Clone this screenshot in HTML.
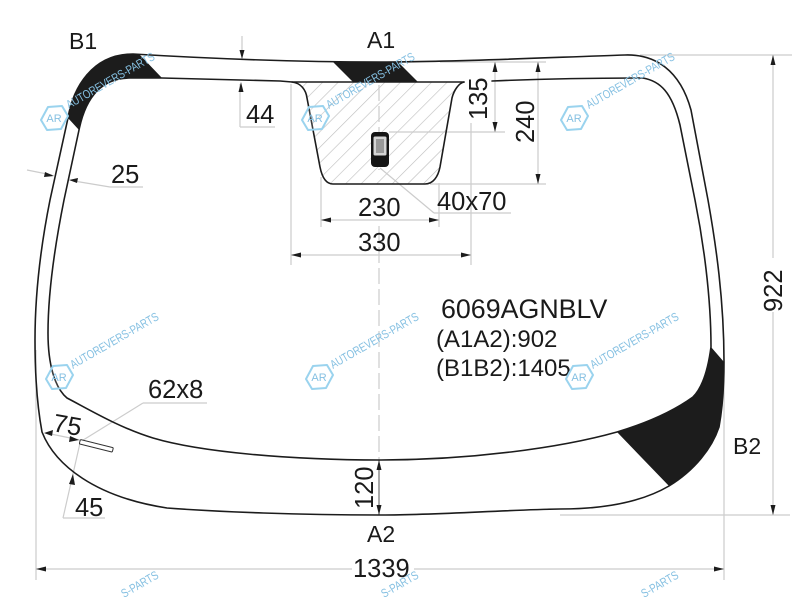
<!DOCTYPE html>
<html>
<head>
<meta charset="utf-8">
<style>
html,body{margin:0;padding:0;background:#fff;width:800px;height:600px;overflow:hidden}
svg{display:block}
text{font-family:"Liberation Sans",sans-serif;fill:#1a1a1a}
.d{stroke:#ccc;stroke-width:1.2;fill:none}
.g{stroke:#1c1c1c;stroke-width:1.6;fill:none;stroke-linejoin:round;stroke-linecap:round}
.a{fill:#1c1c1c;stroke:none}
.t{font-size:25.5px}
text.w{font-size:12px;fill:#85c0e2}
text.r{font-size:11px;fill:#85c0e2;text-anchor:middle}
.h{fill:#fff;fill-opacity:.15;stroke:#9ad3ee;stroke-width:2;stroke-linejoin:round}
</style>
</head>
<body>
<svg width="800" height="600" viewBox="0 0 800 600" xmlns="http://www.w3.org/2000/svg">
<defs>
<pattern id="hatch" width="11" height="11" patternUnits="userSpaceOnUse" patternTransform="rotate(45)">
<rect width="11" height="11" fill="#fff"/>
<line x1="0" y1="0" x2="0" y2="11" stroke="#bdbdbd" stroke-width="1.2"/>
</pattern>
<path id="hex" d="M-13 2L-6 -11L8 -12L14 -2L7 11L-7 12Z"/>
</defs>

<!-- hatched notch -->
<path d="M292 82C301 83 306 90 307 98L320 167C322 177 326 184 333 184H425C433 184 438 177 440 167L452 98C454 90 459 83 464 82Z" fill="url(#hatch)"/>

<!-- dimension and extension lines -->
<g class="d">
<line x1="36" y1="350" x2="36" y2="580"/>
<line x1="724" y1="350" x2="724" y2="580"/>
<line x1="36" y1="569" x2="352" y2="569"/>
<line x1="414" y1="569" x2="724" y2="569"/>
<line x1="640" y1="55" x2="792" y2="55"/>
<line x1="560" y1="515" x2="790" y2="515"/>
<line x1="773" y1="55" x2="773" y2="258"/>
<line x1="773" y1="312" x2="773" y2="515"/>
<line x1="291" y1="84" x2="291" y2="265"/>
<line x1="471" y1="123" x2="471" y2="265"/>
<line x1="321" y1="177" x2="321" y2="227"/>
<line x1="439" y1="183" x2="439" y2="227"/>
<line x1="321" y1="220" x2="439" y2="220"/>
<line x1="291" y1="255" x2="471" y2="255"/>
<line x1="389" y1="132" x2="505" y2="132"/>
<line x1="430" y1="184" x2="546" y2="184"/>
<line x1="440" y1="62" x2="546" y2="62"/>
<line x1="495" y1="62" x2="495" y2="132"/>
<line x1="538" y1="62" x2="538" y2="184"/>
<line x1="380" y1="168" x2="434" y2="213"/>
<line x1="434" y1="213" x2="511" y2="213"/>
<line x1="242" y1="36" x2="242" y2="58"/>
<line x1="240" y1="84" x2="240" y2="127"/>
<line x1="240" y1="127" x2="275" y2="127"/>
<line x1="27" y1="170" x2="52" y2="175"/>
<line x1="74" y1="181" x2="110" y2="187"/>
<line x1="110" y1="187" x2="143" y2="187"/>
<line x1="80" y1="442" x2="143" y2="403"/>
<line x1="143" y1="403" x2="207" y2="403"/>
<line x1="46" y1="433" x2="80" y2="440"/>
<line x1="80" y1="443" x2="63" y2="518"/>
<line x1="63" y1="518" x2="105" y2="518"/>
<line x1="379" y1="64" x2="379" y2="170" stroke-dasharray="16 5"/>
<line x1="379" y1="226" x2="379" y2="460" stroke-dasharray="16 5"/>
</g>
<line x1="379" y1="460" x2="379" y2="515" stroke="#555" stroke-width="1"/>

<!-- black bands -->
<path class="a" d="M68 118C73 88 92 54 133 54L140 55L162 78H130C100 78 85 100 79 130Z"/>
<path class="a" d="M333 62L398 62L418 82H353Z"/>
<path class="a" d="M617 432C650 422 675 410 693 397C702 388 708 370 711 347L724 362C724 385 723 405 719 427C712 448 695 470 669 486Z"/>

<!-- outer -->
<path class="g" d="M133 54C200 58 290 62 380 62C460 62 560 57 625 55C655 54 680 70 691 110L708 200C716 245 724 300 724 362C724 385 723 405 719 427C712 448 695 470 669 486C640 503 600 509 560 509C500 510 440 515 380 515C300 515 220 512 167 508C95 497 55 465 42 432C37 405 35 370 35 340C35 290 42 240 50 200L68 118C73 88 92 54 133 54Z"/>
<!-- inner -->
<path class="g" d="M464 82H292L280 81L162 78H130C100 78 85 100 79 130L64 200C56 240 48 290 48 333C48 365 55 388 67 398C90 410 120 428 153 438C200 452 290 460 380 460C470 460 560 448 617 432C650 422 675 410 693 397C702 388 708 370 711 347C711 295 703 240 695 200L680 125C672 92 660 81 643 78C590 78 540 79 492 81"/>
<!-- notch -->
<path class="g" d="M292 82C301 83 306 90 307 98L320 167C322 177 326 184 333 184H425C433 184 438 177 440 167L452 98C454 90 459 83 464 82"/>

<!-- sensor -->
<rect x="371" y="132" width="18" height="35" rx="4" fill="#151515"/>
<rect x="373.5" y="136.5" width="13" height="19" rx="1.5" fill="#d5d5d5"/>
<rect x="376" y="139" width="8" height="14" fill="#999"/>

<!-- small slot -->
<rect x="80" y="439.5" width="34" height="4.5" rx="1" transform="rotate(14 80 441)" fill="#fff" stroke="#333" stroke-width="1"/>

<!-- arrowheads -->
<g class="a">
<path d="M36 569L46 566.5V571.5Z"/>
<path d="M724 569L714 566.5V571.5Z"/>
<path d="M773 55L770.5 65H775.5Z"/>
<path d="M773 515L770.5 505H775.5Z"/>
<path d="M321 220L331 217.5V222.5Z"/>
<path d="M439 220L429 217.5V222.5Z"/>
<path d="M291 255L301 252.5V257.5Z"/>
<path d="M471 255L461 252.5V257.5Z"/>
<path d="M495 62L492.5 72H497.5Z"/>
<path d="M495 132L492.5 122H497.5Z"/>
<path d="M538 62L535.5 72H540.5Z"/>
<path d="M538 184L535.5 174H540.5Z"/>
<path d="M242 59L239.5 50H244.5Z"/>
<path d="M241 82L238.5 92H243.5Z"/>
<path d="M54 176L45 172L44 177Z"/>
<path d="M69 180L78 178L77 183Z"/>
<path d="M379 460L376.5 470H381.5Z"/>
<path d="M379 515L376.5 505H381.5Z"/>
<path d="M44 433L53 430L52 436Z"/>
<path d="M79 440L70 436L69 442Z"/>
<path d="M73 474L69 484L75 485Z"/>
</g>

<!-- labels -->
<text class="t" x="69" y="49" style="font-size:23px">B1</text>
<text class="t" x="367" y="48" style="font-size:23px">A1</text>
<text class="t" x="733" y="454" style="font-size:23px">B2</text>
<text class="t" x="367" y="542" style="font-size:23px">A2</text>
<text class="t" x="246" y="123">44</text>
<text class="t" x="111" y="183">25</text>
<text class="t" x="358" y="216">230</text>
<text class="t" x="358" y="251">330</text>
<text class="t" x="437" y="210">40x70</text>
<text class="t" x="148" y="398">62x8</text>
<text class="t" x="75" y="516">45</text>
<text class="t" x="353" y="577">1339</text>
<text class="t" transform="translate(52 431) rotate(10)">75</text>
<text class="t" transform="translate(487 120) rotate(-90)">135</text>
<text class="t" transform="translate(534 143) rotate(-90)">240</text>
<text class="t" transform="translate(782 312) rotate(-90)">922</text>
<text class="t" transform="translate(373 509) rotate(-90)">120</text>
<text x="441" y="318" style="font-size:26.8px">6069AGNBLV</text>
<text x="436" y="347" style="font-size:24px">(A1A2):902</text>
<text x="436" y="376" style="font-size:24px">(B1B2):1405</text>

<!-- watermark -->
<g>
<use href="#hex" class="h" x="54" y="118"/><text class="r" x="54" y="122">AR</text>
<text class="w" transform="translate(69 109) rotate(-30)" textLength="100" lengthAdjust="spacingAndGlyphs">AUTOREVERS-PARTS</text>
<use href="#hex" class="h" x="315" y="118"/><text class="r" x="315" y="122">AR</text>
<text class="w" transform="translate(329 109) rotate(-30)" textLength="100" lengthAdjust="spacingAndGlyphs">AUTOREVERS-PARTS</text>
<use href="#hex" class="h" x="574" y="118"/><text class="r" x="574" y="122">AR</text>
<text class="w" transform="translate(589 109) rotate(-30)" textLength="100" lengthAdjust="spacingAndGlyphs">AUTOREVERS-PARTS</text>
<use href="#hex" class="h" x="59" y="377"/><text class="r" x="59" y="381">AR</text>
<text class="w" transform="translate(73 369) rotate(-30)" textLength="100" lengthAdjust="spacingAndGlyphs">AUTOREVERS-PARTS</text>
<use href="#hex" class="h" x="319" y="377"/><text class="r" x="319" y="381">AR</text>
<text class="w" transform="translate(333 369) rotate(-30)" textLength="100" lengthAdjust="spacingAndGlyphs">AUTOREVERS-PARTS</text>
<use href="#hex" class="h" x="579" y="377"/><text class="r" x="579" y="381">AR</text>
<text class="w" transform="translate(593 369) rotate(-30)" textLength="100" lengthAdjust="spacingAndGlyphs">AUTOREVERS-PARTS</text>
<text class="w" transform="translate(124 598) rotate(-30)" textLength="41" lengthAdjust="spacingAndGlyphs">S-PARTS</text>
<text class="w" transform="translate(384 598) rotate(-30)" textLength="41" lengthAdjust="spacingAndGlyphs">S-PARTS</text>
<text class="w" transform="translate(644 598) rotate(-30)" textLength="41" lengthAdjust="spacingAndGlyphs">S-PARTS</text>
</g>
</svg>
</body>
</html>
